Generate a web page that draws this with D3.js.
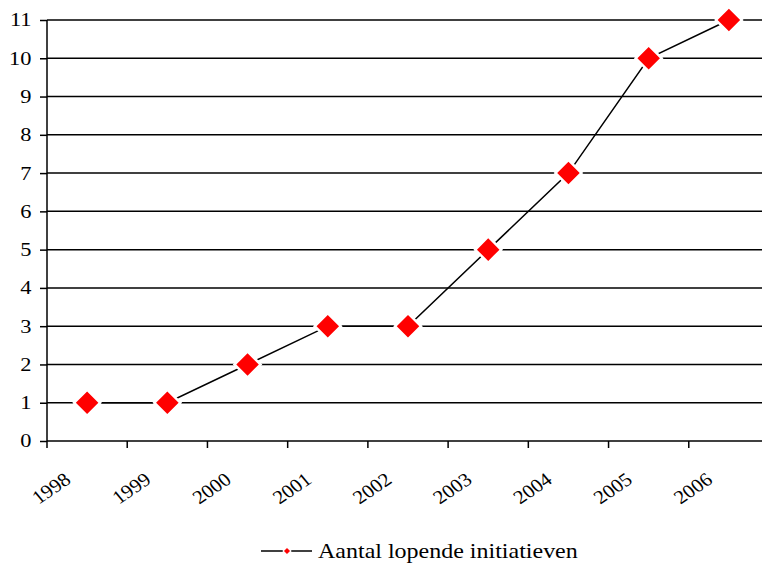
<!DOCTYPE html>
<html>
<head>
<meta charset="utf-8">
<script src="https://cdn.jsdelivr.net/npm/d3@7"></script>
<style>
  html, body { margin: 0; padding: 0; background: #fff; }
  svg { display: block; }
  svg text { font-family: "Liberation Serif", "DejaVu Serif", "Times New Roman", Times, serif; fill: #000; }
</style>
</head>
<body>
<svg id="chart" width="762" height="563"></svg>
<script>
// Number of running initiatives per year
const years = ["1998", "1999", "2000", "2001", "2002", "2003", "2004", "2005", "2006"];
const values = [1, 1, 2, 3, 3, 5, 7, 10, 11];
const yTicks = [0, 1, 2, 3, 4, 5, 6, 7, 8, 9, 10, 11];
const seriesName = "Aantal lopende initiatieven";

const svg = d3.select("#chart");
const plotLeft = 47, plotRight = 769, plotTop = 20, plotBottom = 441;
const widen = 1.18; // text is set slightly wide

const x = d3.scaleBand().domain(years).range([plotLeft, plotRight]).padding(0);
const y = d3.scaleLinear().domain([0, 11]).range([plotBottom, plotTop]);

// horizontal gridlines
svg.append("g")
  .selectAll("line")
  .data(yTicks.filter(d => d > 0))
  .join("line")
  .attr("x1", plotLeft).attr("x2", plotRight)
  .attr("y1", d => y(d)).attr("y2", d => y(d))
  .attr("stroke", "#000").attr("stroke-width", 1.5);

// y axis (line + ticks from d3, labels set separately)
const yAxis = svg.append("g")
  .attr("transform", `translate(${plotLeft},0)`)
  .call(d3.axisLeft(y).tickValues(yTicks).tickSize(7).tickFormat(""));
yAxis.select(".domain").attr("stroke", "#000").attr("stroke-width", 1.5).attr("d", `M0,${plotBottom}V${plotTop}`);
yAxis.selectAll(".tick line").attr("stroke-width", 1.5);
svg.append("g")
  .selectAll("text")
  .data(yTicks)
  .join("text")
  .attr("text-anchor", "end")
  .attr("font-size", 19)
  .attr("dy", "0.34em")
  .attr("transform", d => `translate(31.5,${y(d)}) scale(${widen},1)`)
  .text(d3.format("d"));

// x axis: ticks at category boundaries
const xg = svg.append("g").attr("transform", `translate(0,${plotBottom})`);
xg.append("line").attr("x1", plotLeft).attr("x2", plotRight).attr("stroke", "#000").attr("stroke-width", 1.5);
xg.selectAll(".bt")
  .data(years)
  .join("line")
  .attr("class", "bt")
  .attr("x1", d => x(d)).attr("x2", d => x(d))
  .attr("y1", 0).attr("y2", 7)
  .attr("stroke", "#000").attr("stroke-width", 1.5);
xg.selectAll("text")
  .data(years)
  .join("text")
  .attr("text-anchor", "end")
  .attr("font-size", 19)
  .attr("transform", d => `translate(${x(d) + x.bandwidth() / 2 - 15},41) scale(1.1,1) rotate(-37)`)
  .text(d => d);

// series line
const cx = d => x(d) + x.bandwidth() / 2;
svg.append("path")
  .datum(values)
  .attr("fill", "none")
  .attr("stroke", "#000")
  .attr("stroke-width", 1.5)
  .attr("d", d3.line().x((d, i) => cx(years[i])).y(d => y(d)));

// diamond markers
const diamond = d3.symbol().type(d3.symbolSquare).size(340);
svg.append("g")
  .selectAll("path")
  .data(values)
  .join("path")
  .attr("d", diamond)
  .attr("transform", (d, i) => `translate(${cx(years[i])},${y(d)}) rotate(45)`)
  .attr("fill", "#ff0000")
  .attr("stroke", "#fff")
  .attr("stroke-width", 2.5);

// legend
const lg = svg.append("g").attr("transform", "translate(0,551)");
lg.append("line").attr("x1", 261).attr("x2", 312).attr("y1", 0).attr("y2", 0)
  .attr("stroke", "#000").attr("stroke-width", 1.5);
lg.append("path").attr("d", d3.symbol().type(d3.symbolSquare).size(30))
  .attr("transform", "translate(287,0) rotate(45)")
  .attr("fill", "#ff0000").attr("stroke", "#fff").attr("stroke-width", 1.2);
lg.append("text")
  .attr("font-size", 20)
  .attr("transform", `translate(318,7) scale(1.2,1)`)
  .text(seriesName);
</script>
</body>
</html>
